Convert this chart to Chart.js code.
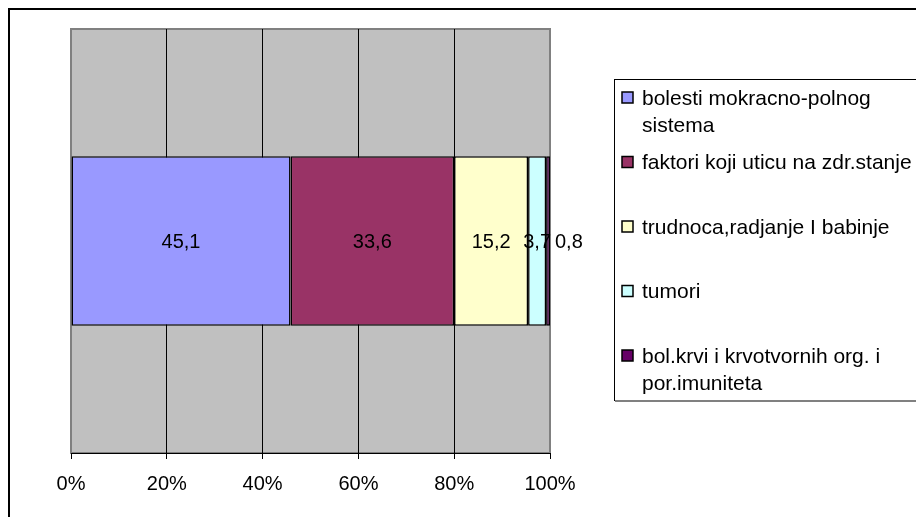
<!DOCTYPE html>
<html>
<head>
<meta charset="utf-8">
<script src="https://cdn.jsdelivr.net/npm/chart.js@4"></script>
<style>
html,body{margin:0;padding:0;background:#fff;}
#wrap{width:916px;height:517px;position:relative;}
</style>
</head>
<body>
<div id="wrap"><canvas id="c" width="916" height="517"></canvas></div>
<script>
const categories = [''];
const seriesLabels = [
  ['bolesti mokracno-polnog', 'sistema'],
  ['faktori koji uticu na zdr.stanje'],
  ['trudnoca,radjanje I babinje'],
  ['tumori'],
  ['bol.krvi i krvotvornih org. i', 'por.imuniteta']
];
const seriesValues = [45.1, 33.6, 15.2, 3.7, 0.8];
const seriesColors = ['#9999FF', '#993366', '#FFFFCC', '#CCFFFF', '#660066'];
const tickValues = [0, 20, 40, 60, 80, 100];

const FONT = '"Liberation Sans", Arial, sans-serif';
const total = seriesValues.reduce((a, b) => a + b, 0);

const datasets = seriesValues.map((v, i) => ({
  label: seriesLabels[i].join(' '),
  data: [v / total * 100],
  raw: v,
  backgroundColor: seriesColors[i],
  borderColor: '#000',
  borderWidth: 1.5,
  borderSkipped: false,
  barPercentage: 1,
  categoryPercentage: 0.4
}));

const bgPlugin = {
  id: 'bg',
  beforeDraw(chart) {
    const ctx = chart.ctx, a = chart.chartArea;
    ctx.save();
    ctx.fillStyle = '#fff';
    ctx.fillRect(0, 0, chart.width, chart.height);
    ctx.strokeStyle = '#000';
    ctx.lineWidth = 2;
    ctx.strokeRect(9, 9, chart.width + 20, chart.height + 20);
    ctx.fillStyle = '#C0C0C0';
    ctx.fillRect(a.left, a.top, a.right - a.left, a.bottom - a.top);
    ctx.strokeStyle = '#808080';
    ctx.lineWidth = 2;
    ctx.strokeRect(a.left, a.top, a.right - a.left, a.bottom - a.top);
    ctx.restore();
  }
};

const labelPlugin = {
  id: 'vals',
  afterDatasetsDraw(chart) {
    const ctx = chart.ctx;
    ctx.save();
    ctx.font = '20px ' + FONT;
    ctx.fillStyle = '#000';
    ctx.textBaseline = 'middle';
    ctx.textAlign = 'left';
    let lastRight = -Infinity;
    chart.data.datasets.forEach((ds, i) => {
      const el = chart.getDatasetMeta(i).data[0];
      const txt = ds.raw.toFixed(1).replace('.', ',');
      const w = ctx.measureText(txt).width;
      const cx = (el.x + el.base) / 2;
      let x = cx - w / 2;
      if (x < lastRight + 4) x = lastRight + 4;
      ctx.fillText(txt, x, el.y + 1);
      lastRight = x + w;
    });
    ctx.restore();
  }
};

const legendPlugin = {
  id: 'customLegend',
  afterDraw(chart) {
    const ctx = chart.ctx;
    const lx = 614, ly = 79, lb = 400;
    ctx.save();
    ctx.fillStyle = '#fff';
    ctx.fillRect(lx, ly, chart.width, lb - ly);
    ctx.strokeStyle = '#000';
    ctx.lineWidth = 1;
    ctx.strokeRect(lx + 0.5, ly + 0.5, chart.width, lb - ly);
    ctx.fillStyle = '#808080';
    ctx.fillRect(lx + 1, lb, chart.width, 2);
    ctx.font = '21px ' + FONT;
    ctx.textBaseline = 'middle';
    ctx.textAlign = 'left';
    const step = 64.5, y0 = 98, lh = 27;
    seriesLabels.forEach((lines, i) => {
      const y = y0 + i * step;
      ctx.fillStyle = seriesColors[i];
      ctx.fillRect(622, y - 6, 11, 11);
      ctx.strokeStyle = '#000';
      ctx.lineWidth = 1.5;
      ctx.strokeRect(622, y - 6, 11, 11);
      ctx.fillStyle = '#000';
      lines.forEach((ln, k) => ctx.fillText(ln, 642, y + k * lh + 1));
    });
    ctx.restore();
  }
};

new Chart(document.getElementById('c'), {
  type: 'bar',
  data: { labels: categories, datasets },
  options: {
    indexAxis: 'y',
    responsive: false,
    animation: false,
    devicePixelRatio: 1,
    layout: { padding: { left: 71, top: 29, right: 366, bottom: 0 } },
    plugins: { legend: { display: false }, tooltip: { enabled: false } },
    scales: {
      x: {
        stacked: true,
        min: 0,
        max: 100,
        afterBuildTicks(scale) { scale.ticks = tickValues.map(v => ({ value: v })); },
        afterFit(scale) { scale.height = 64; },
        ticks: {
          callback: v => v + '%',
          color: '#000',
          font: { family: FONT, size: 20 },
          padding: 13,
          maxRotation: 0
        },
        grid: {
          color: ctx => (ctx.index === 0 || ctx.index === tickValues.length - 1) ? '#808080' : '#000',
          tickColor: '#000',
          tickLength: 6,
          lineWidth: 1
        },
        border: { color: '#000', width: 1 }
      },
      y: {
        stacked: true,
        display: false,
        grid: { display: false }
      }
    }
  },
  plugins: [bgPlugin, labelPlugin, legendPlugin]
});
</script>
</body>
</html>
